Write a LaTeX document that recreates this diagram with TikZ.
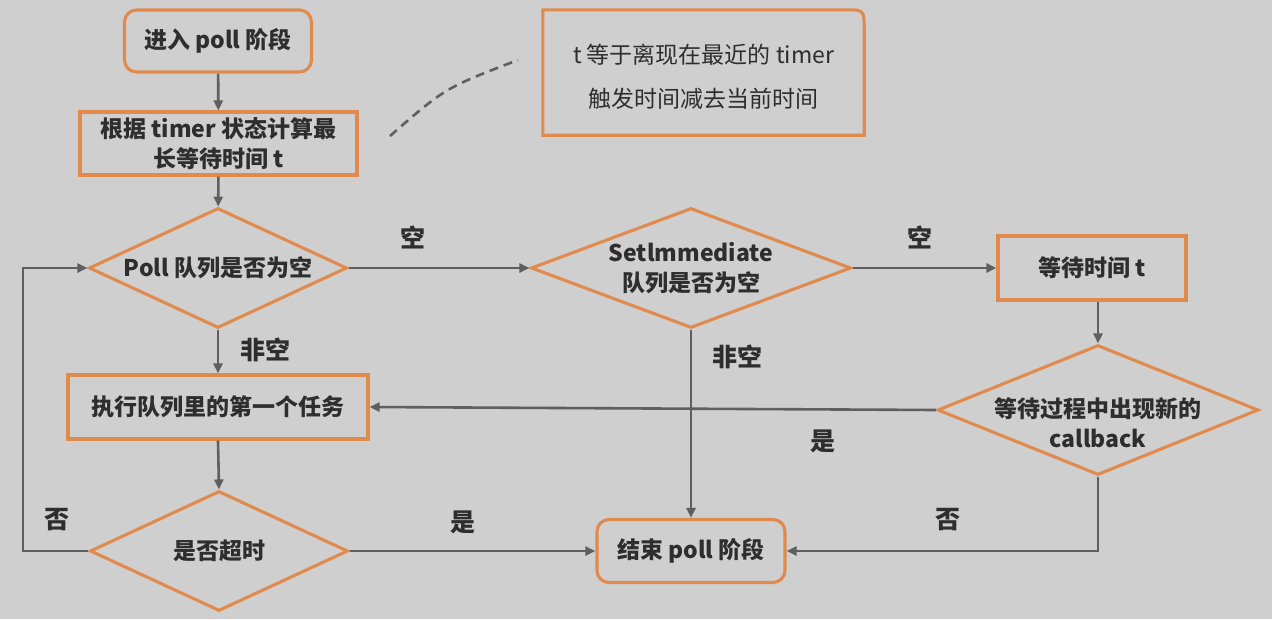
\documentclass[tikz,border=0pt]{standalone}
\usepackage{fontspec}
\setmainfont{Noto Sans CJK SC}
\usetikzlibrary{shapes.geometric,arrows.meta,calc}
\definecolor{bg}{HTML}{CFCFCF}
\definecolor{org}{HTML}{E08A4E}
\definecolor{ln}{HTML}{5F5F5F}
\definecolor{tx}{HTML}{2E2E2E}
\begin{document}
\begin{tikzpicture}[x=1pt,y=-1pt,
  every node/.style={text=tx},
  boxn/.style={draw=org,line width=3.1pt,rectangle,inner sep=0pt,align=center,
    font=\bfseries\fontsize{23}{30}\selectfont},
  roundn/.style={boxn,rounded corners=12pt},
  dian/.style={draw=org,line width=3.1pt,diamond,inner xsep=-60pt,inner ysep=-30pt,align=center,
    font=\bfseries\fontsize{23}{30}\selectfont},
  arr/.style={draw=ln,line width=2.6pt,-{Triangle[length=10pt,width=9pt]}},
  lab/.style={font=\bfseries\fontsize{25}{30}\selectfont},
  notet/.style={font=\fontsize{23}{44}\selectfont,align=center}
]
\fill[bg] (0,0) rectangle (1272,619);
\useasboundingbox (0,0) rectangle (1272,619);

\node[roundn,minimum width=187pt,minimum height=62pt] (start) at (218,41) {进入 poll 阶段};
\node[boxn,minimum width=277pt,minimum height=63pt] (calc) at (218.5,143.5) {根据 timer 状态计算最\\长等待时间 t};
\node[dian,minimum width=258pt,minimum height=120pt] (d1) at (218,268) {Poll 队列是否为空};
\node[dian,minimum width=320pt,minimum height=120pt] (d2) at (691,268) {Setlmmediate\\队列是否为空};
\node[boxn,minimum width=188pt,minimum height=64pt] (wait) at (1092,268) {等待时间 t};
\node[dian,minimum width=321pt,minimum height=130pt] (d3) at (1098,410) {\raisebox{-23pt}[0pt][0pt]{\begin{tabular}{@{}c@{}}等待过程中出现新的\\callback\end{tabular}}};
\node[boxn,minimum width=300pt,minimum height=64pt] (exec) at (218,407) {执行队列里的第一个任务};
\node[dian,minimum width=258pt,minimum height=120pt] (d4) at (219,551) {是否超时};
\node[roundn,minimum width=188pt,minimum height=63pt] (end) at (691,551) {结束 poll 阶段};

\node[notet,minimum width=321pt,minimum height=125pt,inner sep=0pt] (note) at (703.5,72.5) {\raisebox{-10pt}[0pt][0pt]{\begin{tabular}{@{}c@{}}t 等于离现在最近的 timer\\触发时间减去当前时间\end{tabular}}};
\draw[org,line width=3.1pt] (note.south west) -- (note.north west) -- ([xshift=-20pt]note.north east)
  .. controls (note.north east) .. ([yshift=-20pt]note.north east) -- (note.south east) -- cycle;

\coordinate (c1) at (390,136);
\coordinate (c2) at (518,60);
\draw[ln,line width=2.6pt,dash pattern=on 9pt off 6pt] (c1) .. controls (445,88) .. (c2);

\draw[arr] (start) -- (calc);
\draw[arr] (calc) -- (d1);
\draw[arr] (d1.east) -- (d2.west);
\draw[arr] (d2.east) -- (wait.west);
\draw[arr] (wait.south -| d3.north) -- (d3.north);
\draw[arr] (d1.south) -- (exec.north);
\draw[arr] (exec.south) -- (d4.north);
\draw[arr] (d3.west) -- (exec.east);
\draw[arr] (d2.south) -- (end.north);
\draw[arr] (d4.east) -- (end.west);
\draw[arr] (d3.south) |- (end.east);
\coordinate (lp) at (23,551);
\draw[arr] (d4.west) -- (lp) |- (d1.west);

\node[lab] (l1) at (413,237) {空};
\node[lab] (l2) at (920,237) {空};
\node[lab] (l3) at (265,350) {非空};
\node[lab] (l4) at (737,357) {非空};
\node[lab] (l5) at (823,441) {是};
\node[lab] (l6) at (948,520) {否};
\node[lab] (l7) at (57,520) {否};
\node[lab] (l8) at (463,522) {是};
\end{tikzpicture}
\end{document}
